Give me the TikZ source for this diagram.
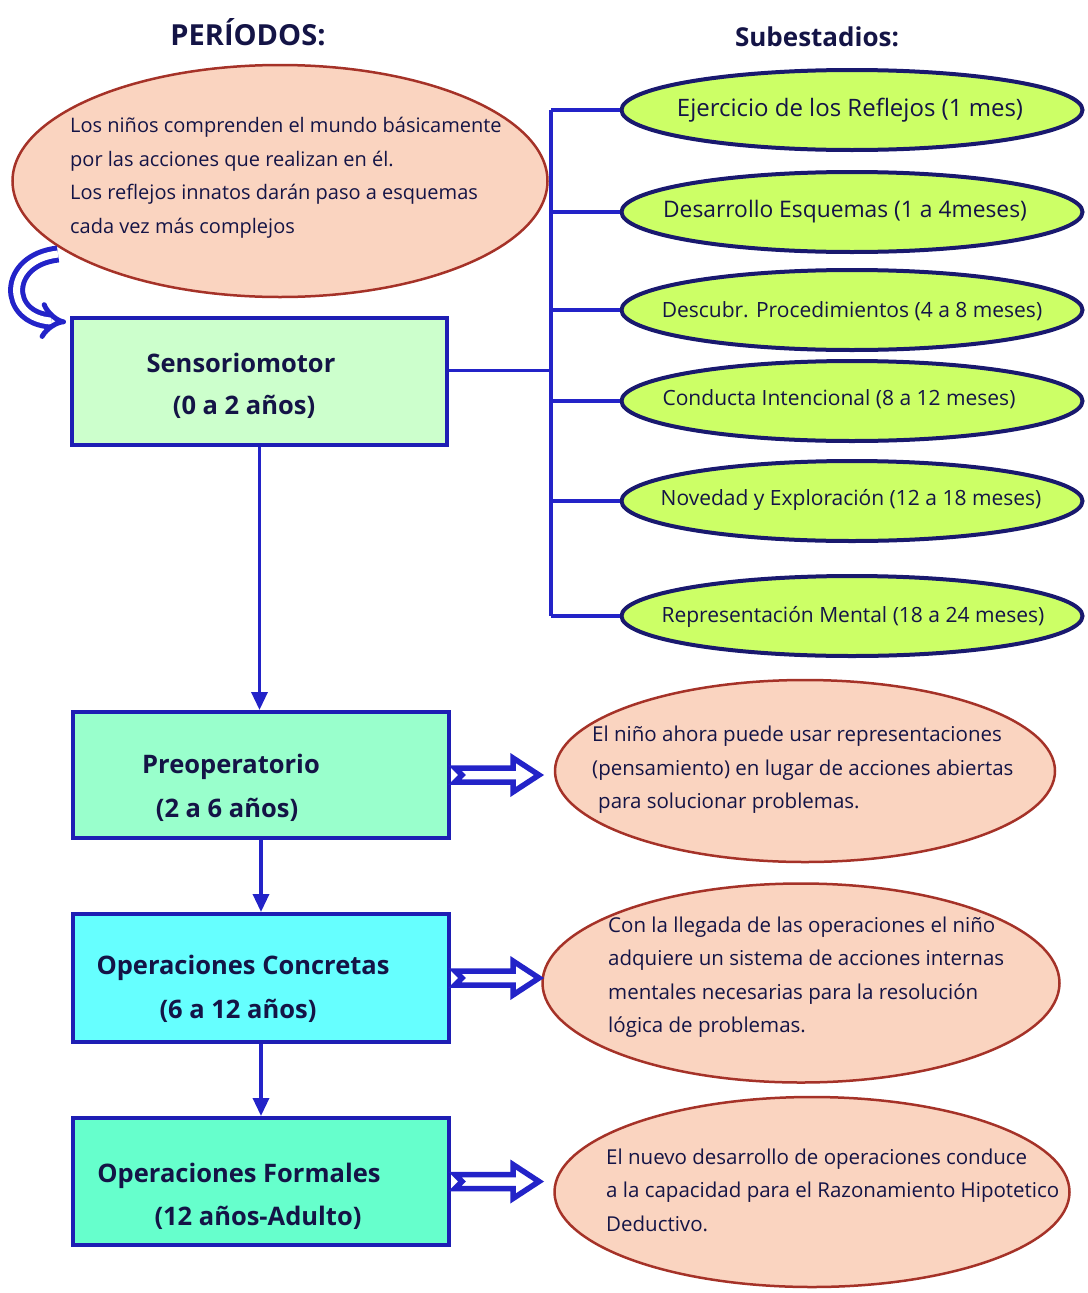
\documentclass[tikz,border=0pt]{standalone}
\usepackage{fontspec}
\setmainfont{Open Sans}
\usetikzlibrary{shapes.geometric, arrows.meta}
\definecolor{navy}{RGB}{20,20,70}
\definecolor{lineblue}{RGB}{35,35,200}
\definecolor{boxblue}{RGB}{30,30,180}
\definecolor{peach}{RGB}{250,212,192}
\definecolor{peachborder}{RGB}{165,50,40}
\definecolor{lime}{RGB}{204,255,102}
\definecolor{ellborder}{RGB}{25,25,110}
\definecolor{fillA}{RGB}{204,255,204}
\definecolor{fillB}{RGB}{153,255,204}
\definecolor{fillC}{RGB}{102,255,255}
\definecolor{fillD}{RGB}{102,255,204}
\begin{document}
\begin{tikzpicture}[x=1pt,y=-1pt,
  header/.style={text=navy, inner sep=0pt},
  infoell/.style={ellipse, draw=peachborder, line width=2.5pt, fill=peach, inner sep=0pt},
  infotext/.style={align=left, font=\fontsize{20.5}{33.5}\selectfont, text=navy, inner sep=0pt, anchor=west},
  subell/.style={ellipse, draw=ellborder, line width=4pt, fill=lime, minimum width=461pt, minimum height=80pt, inner sep=0pt},
  subtext/.style={font=\fontsize{21}{24}\selectfont, text=navy, inner sep=0pt},
  period/.style={rectangle, draw=boxblue, line width=4pt, minimum width=376pt, minimum height=127pt, inner sep=0pt},
  ptitle/.style={font=\fontsize{25.5}{29}\selectfont\bfseries, text=navy, inner sep=0pt},
  conn/.style={draw=lineblue, line width=3.4pt},
  flow/.style={conn, -{Triangle[length=18pt,width=16pt]}},
  curvearrow/.style={draw=lineblue, line width=5pt, double=white, double distance=7pt, -{Implies[length=24pt,width=52pt]}},
  pics/hollowarrow/.style={code={
    \draw[draw=lineblue, line width=5.5pt, fill=white, line join=miter]
      (0,-7) -- (58,-7) -- (58,-17) -- (84,0) -- (58,17) -- (58,7) -- (0,7) -- (7,0) -- cycle;
  }}
]
\useasboundingbox (0,0) rectangle (1087,1293);

% headers
\node[header, font=\fontsize{29}{32}\selectfont\bfseries] (hper) at (248,32) {PERÍODOS:};
\node[header, font=\fontsize{26}{30}\selectfont\bfseries] (hsub) at (817,37) {Subestadios:};

% top info ellipse
\node[infoell, minimum width=535pt, minimum height=232pt] (e1) at (280,181) {};
\node[infotext, font=\fontsize{20}{33.5}\selectfont] (t1) at (70,177.5) {Los niños comprenden el mundo básicamente\\por las acciones que realizan en él.\\Los reflejos innatos darán paso a esquemas\\cada vez más complejos};

% period boxes
\node[period, fill=fillA, minimum width=375pt] (s1) at (259.5,381.5) {};
\node[period, fill=fillB, minimum height=126pt] (s2) at (261,775) {};
\node[period, fill=fillC, minimum height=128pt] (s3) at (261,978) {};
\node[period, fill=fillD] (s4) at (261,1181.5) {};

\node[ptitle] (s1a) at (241,363) {Sensoriomotor};
\node[ptitle] (s1b) at (244,407) {(0 a 2 años)};
\node[ptitle] (s2a) at (231,767) {Preoperatorio};
\node[ptitle] (s2b) at (227,810) {(2 a 6 años)};
\node[ptitle] (s3a) at (243,968) {Operaciones Concretas};
\node[ptitle] (s3b) at (238,1011) {(6 a 12 años)};
\node[ptitle] (s4a) at (239,1176) {Operaciones Formales};
\node[ptitle] (s4b) at (258,1218) {(12 años-Adulto)};

% substage ellipses
\node[subell] (g1) at (852,110) {};
\node[subell] (g2) at (852,212) {};
\node[subell] (g3) at (852,310) {};
\node[subell] (g4) at (852,401) {};
\node[subell] (g5) at (852,501) {};
\node[subell] (g6) at (852,616) {};
\node[subtext, font=\fontsize{24}{27}\selectfont] (g1t) at (850,110) {Ejercicio de los Reflejos (1 mes)};
\node[subtext, font=\fontsize{22.8}{26}\selectfont] (g2t) at (845,212) {Desarrollo Esquemas (1 a 4meses)};
\node[subtext] (g3t) at (852,311) {Descubr. Procedimientos (4 a 8 meses)};
\node[subtext] (g4t) at (839,399) {Conducta Intencional (8 a 12 meses)};
\node[subtext] (g5t) at (851,500) {Novedad y Exploración (12 a 18 meses)};
\node[subtext] (g6t) at (853,617) {Representación Mental (18 a 24 meses)};

% bus connectors
\coordinate (bus) at (551,0);
\coordinate (s1r) at ([yshift=11pt]s1.east);
\draw[conn] (s1r) -- (s1r -| bus);
\draw[conn] (g1 -| bus) -- (g6 -| bus);
\foreach \g in {g1,g2,g3,g4,g5,g6}{
  \draw[conn] (\g -| bus) -- (\g.west);
}

% info ellipses on the right
\node[infoell, minimum width=500pt, minimum height=182pt] (e2) at (805,771) {};
\node[infotext] (t2) at (592,770) {El niño ahora puede usar representaciones\\(pensamiento) en lugar de acciones abiertas\\\hspace*{6pt}para solucionar problemas.};
\node[infoell, minimum width=517pt, minimum height=199pt] (e3) at (801,983) {};
\node[infotext] (t3) at (608,977) {Con la llegada de las operaciones el niño\\adquiere un sistema de acciones internas\\mentales necesarias para la resolución\\lógica de problemas.};
\node[infoell, minimum width=515pt, minimum height=190pt] (e4) at (812,1192) {};
\node[infotext] (t4) at (606,1190) {El nuevo desarrollo de operaciones conduce\\a la capacidad para el Razonamiento Hipotetico\\Deductivo.};

% flow arrows
\draw[flow] (s1.south) -- (s1.south |- s2.north);
\draw[flow] (s2.south) -- (s3.north);
\draw[flow] (s3.south) -- (s4.north);

% hollow arrows to descriptions
\pic at ([xshift=4pt]s2.east) {hollowarrow};
\pic at ([xshift=4pt]s3.east) {hollowarrow};
\pic at ([xshift=4pt]s4.east) {hollowarrow};

% curved arrow from top ellipse to sensoriomotor
\coordinate (cA) at (58,254);
\coordinate (cB) at (66,322);
\draw[curvearrow] (cA) .. controls (4,260) and (4,318) .. (cB);
\end{tikzpicture}
\end{document}
